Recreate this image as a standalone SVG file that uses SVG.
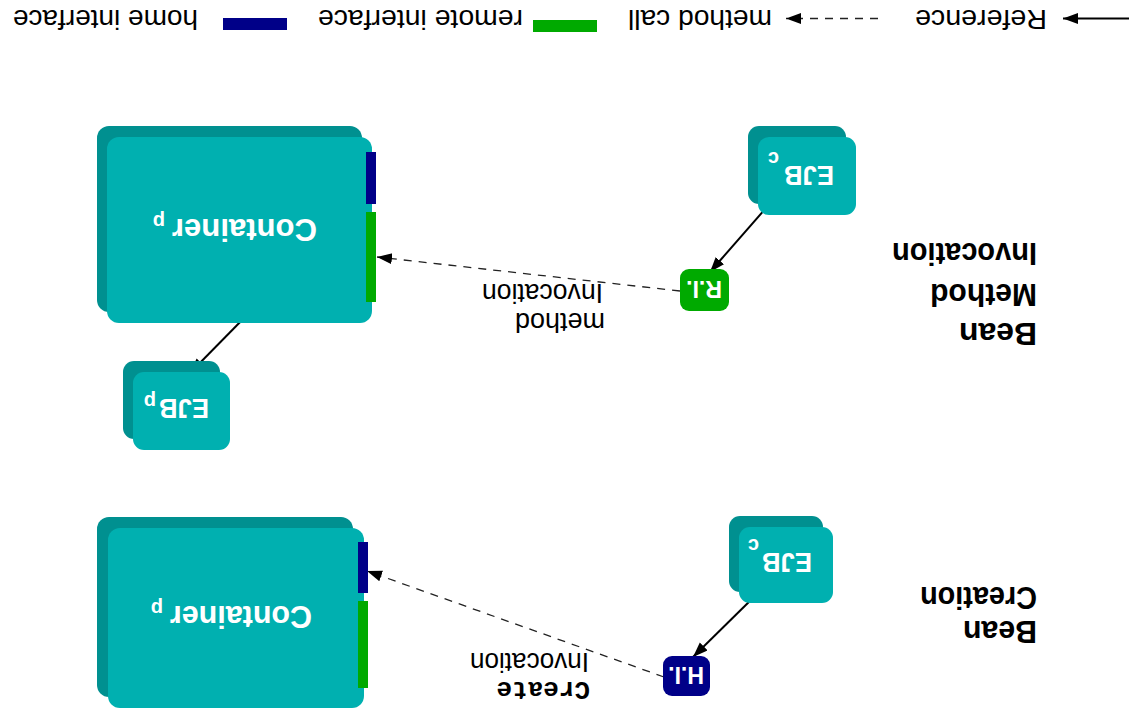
<svg xmlns="http://www.w3.org/2000/svg" width="1129" height="718" viewBox="0 0 1129 718">
  <defs>
    <marker id="head" markerUnits="userSpaceOnUse" markerWidth="16" markerHeight="12" refX="15" refY="5.5" orient="auto">
      <path d="M0,0 L15,5.5 L0,11 z" fill="#000"/>
    </marker>
    <style>
      .lbl { font-family: "Liberation Sans", Arial, sans-serif; font-size: 27px; fill: #000; }
      .ttl { font-family: "Liberation Sans", Arial, sans-serif; font-size: 31px; font-weight: bold; fill: #000; }
      .cont { font-family: "Liberation Sans", Arial, sans-serif; font-size: 32px; font-weight: bold; fill: #fff; }
      .ejb { font-family: "Liberation Sans", Arial, sans-serif; font-size: 28px; font-weight: bold; fill: #fff; }
      .sub { font-family: "Liberation Sans", Arial, sans-serif; font-size: 20px; font-weight: bold; fill: #fff; }
      .iface { font-family: "Liberation Sans", Arial, sans-serif; font-size: 23px; font-weight: bold; fill: #fff; text-anchor: middle; }
      .mono { font-family: "Liberation Mono", "Courier New", monospace; font-size: 26px; font-weight: bold; fill: #000; }
      .back { fill: #009090; }
      .front { fill: #00b0b0; }
      .home { fill: #000088; }
      .remote { fill: #00aa00; }
      .ref { stroke: #000; stroke-width: 2; fill: none; }
      .call { stroke: #222; stroke-width: 1.3; stroke-dasharray: 8 7; fill: none; }
    </style>
  </defs>

  <!-- whole sheet is printed upside down -->
  <g transform="rotate(180 564.5 359)">

    <!-- legend -->
    <g id="legend">
      <line class="ref" x1="0" y1="699.5" x2="66" y2="699.5" marker-end="url(#head)"/>
      <text class="lbl" x="82" y="708" textLength="132" lengthAdjust="spacingAndGlyphs">Reference</text>
      <line class="call" x1="251" y1="699.5" x2="343" y2="699.5" stroke-dasharray="8 10" stroke="#555" marker-end="url(#head)"/>
      <text class="lbl" x="357" y="708" textLength="144" lengthAdjust="spacingAndGlyphs">method call</text>
      <rect class="remote" x="532" y="686" width="64" height="12"/>
      <text class="lbl" x="606" y="708" textLength="205" lengthAdjust="spacingAndGlyphs">remote interface</text>
      <rect class="home" x="842" y="688" width="64" height="12"/>
      <text class="lbl" x="931" y="708" textLength="185" lengthAdjust="spacingAndGlyphs">home interface</text>
    </g>

    <!-- section titles -->
    <g id="title-invocation">
      <text class="ttl" x="92" y="395" textLength="78" lengthAdjust="spacingAndGlyphs">Bean</text>
      <text class="ttl" x="92" y="434" textLength="107" lengthAdjust="spacingAndGlyphs">Method</text>
      <text class="ttl" x="92" y="475" textLength="145" lengthAdjust="spacingAndGlyphs">Invocation</text>
    </g>
    <g id="title-creation">
      <text class="ttl" x="92" y="97" textLength="74" lengthAdjust="spacingAndGlyphs">Bean</text>
      <text class="ttl" x="92" y="131" textLength="117" lengthAdjust="spacingAndGlyphs">Creation</text>
    </g>

    <!-- connectors -->
    <g id="connectors">
      <line class="ref" x1="363" y1="510" x2="419" y2="446" marker-end="url(#head)"/>
      <line class="ref" x1="881" y1="404" x2="939" y2="345" marker-end="url(#head)"/>
      <line class="ref" x1="372" y1="124" x2="436" y2="61" marker-end="url(#head)"/>
      <line class="call" x1="449" y1="427" x2="752" y2="461" marker-end="url(#head)"/>
      <line class="call" x1="465" y1="41" x2="762" y2="147" marker-end="url(#head)"/>
      <text class="lbl" x="524" y="405" textLength="90" lengthAdjust="spacingAndGlyphs">method</text>
      <text class="lbl" x="526" y="434" textLength="121" lengthAdjust="spacingAndGlyphs">Invocation</text>
      <text class="mono" x="539" y="36">Create</text>
      <text class="lbl" x="540" y="65" textLength="119" lengthAdjust="spacingAndGlyphs">Invocation</text>
    </g>

    <!-- bean method invocation -->
    <g id="ejb-c-invoke">
      <rect class="back" x="283" y="514" width="98" height="78" rx="11"/>
      <rect class="front" x="273" y="503" width="98" height="78" rx="11"/>
      <text class="ejb" x="295" y="552" textLength="50" lengthAdjust="spacingAndGlyphs">EJB</text>
      <text class="sub" x="350" y="566">c</text>
    </g>
    <g id="remote-iface">
      <rect class="remote" x="400" y="407" width="49" height="42" rx="9"/>
      <text class="iface" x="425" y="437">R.I.</text>
    </g>
    <g id="container-invoke">
      <rect class="back" x="767" y="406" width="265" height="186" rx="12"/>
      <rect class="front" x="757" y="395" width="265" height="186" rx="12"/>
      <rect class="home" x="753" y="514" width="10" height="52"/>
      <rect class="remote" x="753" y="416" width="10" height="90"/>
      <text class="cont" x="812" y="499" textLength="145" lengthAdjust="spacingAndGlyphs">Container</text>
      <text class="sub" x="964" y="503" font-size="21">p</text>
    </g>
    <g id="ejb-p">
      <rect class="back" x="909" y="279" width="97" height="78" rx="11"/>
      <rect class="front" x="899" y="268" width="97" height="78" rx="11"/>
      <text class="ejb" x="920" y="319" textLength="50" lengthAdjust="spacingAndGlyphs">EJB</text>
      <text class="sub" x="973" y="323">p</text>
    </g>

    <!-- bean creation -->
    <g id="ejb-c-create">
      <rect class="back" x="306" y="126" width="94" height="76" rx="11"/>
      <rect class="front" x="296" y="115" width="94" height="76" rx="11"/>
      <text class="ejb" x="317" y="165" textLength="50" lengthAdjust="spacingAndGlyphs">EJB</text>
      <text class="sub" x="370" y="179">c</text>
    </g>
    <g id="home-iface">
      <rect class="home" x="419" y="22" width="47" height="40" rx="9"/>
      <text class="iface" x="443" y="51">H.I.</text>
    </g>
    <g id="container-create">
      <rect class="back" x="776" y="21" width="256" height="180" rx="12"/>
      <rect class="front" x="765" y="10" width="256" height="180" rx="12"/>
      <rect class="home" x="761" y="125" width="10" height="51"/>
      <rect class="remote" x="761" y="30" width="10" height="87"/>
      <text class="cont" x="817" y="112" textLength="142" lengthAdjust="spacingAndGlyphs">Container</text>
      <text class="sub" x="966" y="116" font-size="21">p</text>
    </g>
  </g>
</svg>
